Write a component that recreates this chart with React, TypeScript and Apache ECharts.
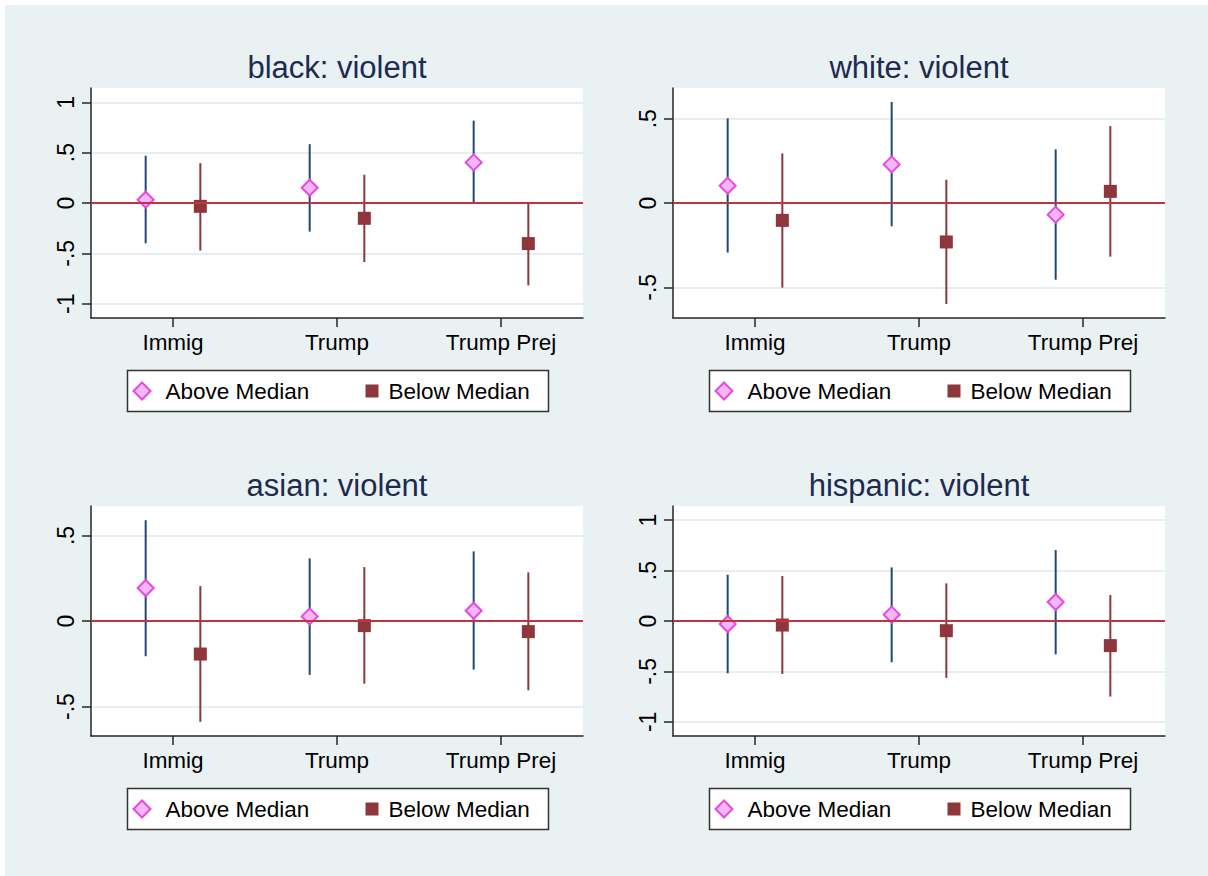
import React, { useEffect, useRef } from 'react';
import * as echarts from 'echarts';

// ---------------- data ----------------
const CATEGORIES = ['Immig', 'Trump', 'Trump Prej'];
const CATEGORY_POS = [1, 2, 3];
const PANEL_TITLES = ['black: violent', 'white: violent', 'asian: violent', 'hispanic: violent'];
const GROUPS = ['Above Median', 'Below Median'];

const BLACK_ABOVE_EST = [0.033, 0.152, 0.403];
const BLACK_ABOVE_LO = [-0.4, -0.284, -0.005];
const BLACK_ABOVE_HI = [0.469, 0.584, 0.818];
const BLACK_BELOW_EST = [-0.033, -0.152, -0.403];
const BLACK_BELOW_LO = [-0.472, -0.587, -0.818];
const BLACK_BELOW_HI = [0.396, 0.281, 0.005];

const WHITE_ABOVE_EST = [0.103, 0.229, -0.069];
const WHITE_ABOVE_LO = [-0.294, -0.138, -0.455];
const WHITE_ABOVE_HI = [0.502, 0.599, 0.318];
const WHITE_BELOW_EST = [-0.103, -0.231, 0.069];
const WHITE_BELOW_LO = [-0.502, -0.599, -0.318];
const WHITE_BELOW_HI = [0.294, 0.138, 0.456];

const ASIAN_ABOVE_EST = [0.193, 0.027, 0.06];
const ASIAN_ABOVE_LO = [-0.206, -0.315, -0.284];
const ASIAN_ABOVE_HI = [0.589, 0.366, 0.407];
const ASIAN_BELOW_EST = [-0.193, -0.027, -0.062];
const ASIAN_BELOW_LO = [-0.589, -0.366, -0.405];
const ASIAN_BELOW_HI = [0.204, 0.315, 0.284];

const HISP_ABOVE_EST = [-0.03, 0.063, 0.188];
const HISP_ABOVE_LO = [-0.518, -0.409, -0.33];
const HISP_ABOVE_HI = [0.459, 0.531, 0.703];
const HISP_BELOW_EST = [-0.04, -0.096, -0.244];
const HISP_BELOW_LO = [-0.525, -0.564, -0.749];
const HISP_BELOW_HI = [0.446, 0.373, 0.257];

const TICKS_WIDE = [-1, -0.5, 0, 0.5, 1];
const TICKS_NARROW = [-0.5, 0, 0.5];
const REFERENCE_LINE = 0;

// ---------------- styles / layout ----------------
const FONT = '"Liberation Sans", Arial, Helvetica, sans-serif';
const NAVY = '#1f4870';
const MAROON = '#8e363c';
const DIAMOND_FILL = '#f5b6f5';
const DIAMOND_STROKE = '#e449e4';
const ZERO_COLOR = '#c0343f';
const AXIS_COLOR = '#262626';
const BG = '#eaf1f3';
const OFFSET = 1 / 6;

const PANELS = [
  { title: PANEL_TITLES[0], ext: 1.142, ticks: TICKS_WIDE,
    above: [BLACK_ABOVE_EST, BLACK_ABOVE_LO, BLACK_ABOVE_HI], below: [BLACK_BELOW_EST, BLACK_BELOW_LO, BLACK_BELOW_HI] },
  { title: PANEL_TITLES[1], ext: 0.682, ticks: TICKS_NARROW,
    above: [WHITE_ABOVE_EST, WHITE_ABOVE_LO, WHITE_ABOVE_HI], below: [WHITE_BELOW_EST, WHITE_BELOW_LO, WHITE_BELOW_HI] },
  { title: PANEL_TITLES[2], ext: 0.672, ticks: TICKS_NARROW,
    above: [ASIAN_ABOVE_EST, ASIAN_ABOVE_LO, ASIAN_ABOVE_HI], below: [ASIAN_BELOW_EST, ASIAN_BELOW_LO, ASIAN_BELOW_HI] },
  { title: PANEL_TITLES[3], ext: 1.14, ticks: TICKS_WIDE,
    above: [HISP_ABOVE_EST, HISP_ABOVE_LO, HISP_ABOVE_HI], below: [HISP_BELOW_EST, HISP_BELOW_LO, HISP_BELOW_HI] },
];

const LAYOUT = [
  { left: 91, top: 88 },
  { left: 673, top: 88 },
  { left: 91, top: 506 },
  { left: 673, top: 506 },
];
const PLOT_W = 492;
const PLOT_H = 230;

function fmtY(v: number): string {
  if (v === 0) return '0';
  const a = Math.abs(v);
  const s = a < 1 ? String(a).replace(/^0/, '') : String(a);
  return (v < 0 ? '-' : '') + s;
}

function errRender(color: string) {
  return (params: any, api: any) => {
    const x = api.value(0);
    const p1 = api.coord([x, api.value(1)]);
    const p2 = api.coord([x, api.value(2)]);
    return {
      type: 'line',
      shape: { x1: p1[0], y1: p1[1], x2: p2[0], y2: p2[1] },
      style: { stroke: color, lineWidth: 2 },
    };
  };
}

function buildOption() {
  const grid: any[] = [];
  const xAxis: any[] = [];
  const yAxis: any[] = [];
  const series: any[] = [];
  const graphic: any[] = [
    { type: 'rect', shape: { x: 0, y: 0, width: 1208, height: 5 }, style: { fill: '#ffffff' }, silent: true },
    { type: 'rect', shape: { x: 0, y: 0, width: 5, height: 876 }, style: { fill: '#ffffff' }, silent: true },
  ];

  PANELS.forEach((p, i) => {
    const L = LAYOUT[i];
    grid.push({
      left: L.left, top: L.top, width: PLOT_W, height: PLOT_H,
      show: true, backgroundColor: '#ffffff', borderWidth: 0, containLabel: false,
    });
    xAxis.push({
      type: 'value', gridIndex: i, min: 0.5, max: 3.5,
      axisLine: { show: true, onZero: false, lineStyle: { color: AXIS_COLOR, width: 1.5 } },
      axisTick: { show: true, length: 9, customValues: CATEGORY_POS, lineStyle: { color: AXIS_COLOR, width: 1.5 } },
      axisLabel: {
        customValues: CATEGORY_POS,
        formatter: (v: number) => CATEGORIES[CATEGORY_POS.indexOf(v)] ?? '',
        fontSize: 22.5, color: '#000', fontFamily: FONT, margin: 13,
      },
      splitLine: { show: false },
    });
    yAxis.push({
      type: 'value', gridIndex: i, min: -p.ext, max: p.ext,
      axisLine: { show: true, onZero: false, lineStyle: { color: AXIS_COLOR, width: 1.5 } },
      axisTick: { show: true, length: 9, customValues: p.ticks, lineStyle: { color: AXIS_COLOR, width: 1.5 } },
      axisLabel: {
        customValues: p.ticks, rotate: 90, formatter: fmtY,
        fontSize: 23, color: '#000', fontFamily: FONT, margin: 14,
      },
      splitLine: { show: true, lineStyle: { color: '#e6eef1', width: 2 } },
    });

    // zero reference line
    series.push({
      type: 'line', xAxisIndex: i, yAxisIndex: i, data: [], z: 1, silent: true,
      markLine: {
        silent: true, symbol: ['none', 'none'], label: { show: false },
        lineStyle: { color: ZERO_COLOR, width: 2.2, type: 'solid' },
        emphasis: { disabled: true },
        data: [{ yAxis: REFERENCE_LINE }],
      },
    });

    const groups = [
      { name: GROUPS[0], d: p.above, dx: -OFFSET, color: NAVY },
      { name: GROUPS[1], d: p.below, dx: OFFSET, color: MAROON },
    ];
    groups.forEach((g) => {
      series.push({
        type: 'custom', name: g.name, xAxisIndex: i, yAxisIndex: i, z: 2, silent: true,
        renderItem: errRender(g.color),
        encode: { x: 0, y: [1, 2] },
        data: CATEGORY_POS.map((c, j) => [c + g.dx, g.d[1][j], g.d[2][j]]),
      });
    });
    series.push({
      type: 'scatter', name: GROUPS[0], xAxisIndex: i, yAxisIndex: i, z: 3,
      symbol: 'diamond', symbolSize: 16,
      itemStyle: { color: DIAMOND_FILL, borderColor: DIAMOND_STROKE, borderWidth: 2, opacity: 1 },
      data: CATEGORY_POS.map((c, j) => [c - OFFSET, p.above[0][j]]),
    });
    series.push({
      type: 'scatter', name: GROUPS[1], xAxisIndex: i, yAxisIndex: i, z: 3,
      symbol: 'rect', symbolSize: 13,
      itemStyle: { color: MAROON, opacity: 1 },
      data: CATEGORY_POS.map((c, j) => [c + OFFSET, p.below[0][j]]),
    });

    // title
    const cx = L.left + PLOT_W / 2;
    graphic.push({
      type: 'text', x: cx, y: L.top - 21,
      style: { text: p.title, fill: '#1c2b50', font: `31px ${FONT}`, textAlign: 'center', textVerticalAlign: 'middle' },
      silent: true,
    });

    // legend
    const bx = L.left + 36.5;
    const by = L.top + 282.5;
    const cy = by + 20.5;
    graphic.push({
      type: 'group', silent: true,
      children: [
        { type: 'rect', shape: { x: bx, y: by, width: 421, height: 41 }, style: { fill: '#ffffff', stroke: '#333', lineWidth: 1.5 } },
        { type: 'polygon', shape: { points: [[bx + 14.5, cy - 8.5], [bx + 23, cy], [bx + 14.5, cy + 8.5], [bx + 6, cy]] },
          style: { fill: DIAMOND_FILL, stroke: DIAMOND_STROKE, lineWidth: 2 } },
        { type: 'text', x: bx + 38, y: cy, style: { text: GROUPS[0], fill: '#000', font: `22.5px ${FONT}`, textVerticalAlign: 'middle' } },
        { type: 'rect', shape: { x: bx + 238, y: cy - 6.5, width: 13, height: 13 }, style: { fill: MAROON } },
        { type: 'text', x: bx + 261, y: cy, style: { text: GROUPS[1], fill: '#000', font: `22.5px ${FONT}`, textVerticalAlign: 'middle' } },
      ],
    });
  });

  return {
    animation: false,
    backgroundColor: BG,
    grid, xAxis, yAxis, series, graphic,
  };
}

export default function App() {
  const ref = useRef<HTMLDivElement>(null);
  useEffect(() => {
    if (!ref.current) return;
    const chart = echarts.init(ref.current, undefined, { renderer: 'svg' });
    chart.setOption(buildOption() as any);
    return () => chart.dispose();
  }, []);
  return <div ref={ref} style={{ position: 'absolute', left: 0, top: 0, width: 1208, height: 876 }} />;
}
